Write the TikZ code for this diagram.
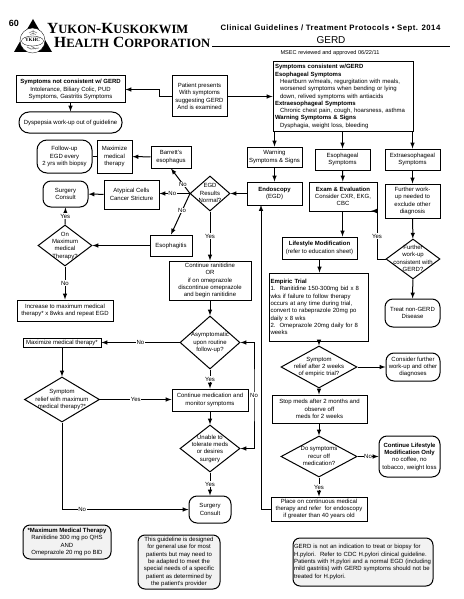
\documentclass[tikz,border=0pt]{standalone}
\usepackage{fontspec}
\setmainfont{Liberation Sans}
\newfontfamily\serifhead{Liberation Serif}
\newfontfamily\spacedhead[LetterSpace=6]{Liberation Sans}
\usetikzlibrary{shapes.geometric,calc}
\newcommand{\boxfont}{\fontsize{6}{7.3}\selectfont}
\newcommand{\smallcap}[1]{{\fontsize{12.6}{13}\selectfont #1}}
\newcommand{\dtxt}[1]{\makebox[0pt]{\smash{\raisebox{-1.6pt}{\begin{tabular}[c]{@{}c@{}}#1\end{tabular}}}}}
\tikzset{
  box/.style={draw,line width=1pt,align=center,font=\boxfont,inner sep=0pt},
  term/.style={box,rounded corners=8pt},
  note/.style={box,rounded corners=7pt,fill=gray!10},
  dmd/.style={diamond,draw,line width=1pt,font=\boxfont,inner sep=0pt,aspect=1},
  link/.style={-latex,line width=1pt},
  plain/.style={line width=1pt},
  lbl/.style={fill=white,inner sep=0.5pt,font=\boxfont},
  headline/.style={anchor=base west,inner sep=0pt,font=\serifhead\bfseries\fontsize{15.5}{16}\selectfont},
}
\begin{document}
\begin{tikzpicture}[x=1pt,y=-1pt]
        \useasboundingbox (0,0) rectangle (463,599);
        %Header
        \node[font=\bfseries\fontsize{9}{9}\selectfont] (pagenum) at (14,23) {60};
        \fill (33,19) -- (14,52) -- (52,52) -- cycle;
        \draw[fill=white,line width=0.3pt] (32.5,40.5) circle(12.5pt);
        \draw[line width=0.3pt] (32.5,41) ellipse(11pt and 5pt);
        \node[font=\serifhead\bfseries\fontsize{5}{5}\selectfont,inner sep=0pt] (ykhc) at (32.5,39.5) {YKHC};
        \draw[line width=0.5pt,gray] (33,35) -- (33,30) (29,33) -- (33,31) -- (37,33) (30,35) -- (33,33) -- (36,35);
        \draw[line width=0.7pt,gray] (27,47) -- (31,49) -- (39,48) (31,46) -- (36,49);
        \node[headline] (titleone) at (47,34) {Y\smallcap{UKON}-K\smallcap{USKOKWIM}};
        \node[headline] (titletwo) at (54,48) {H\smallcap{EALTH} C\smallcap{ORPORATION}};
        \node[inner sep=0pt,font=\spacedhead\bfseries\fontsize{7.8}{8}\selectfont] (guidelines) at (330.5,28) {Clinical Guidelines / Treatment Protocols • Sept. 2014};
        \node[inner sep=0pt,font=\fontsize{10}{10}\selectfont] (gerd) at (331,40) {GERD};
        \draw[line width=1pt] (212,47) -- (450,47);
        \node[inner sep=0pt,font=\fontsize{5.6}{6}\selectfont] (msec) at (330,53) {MSEC reviewed and approved 06/22/11};
        %Left column
        \node[box,minimum width=109pt,minimum height=27pt] (notgerd) at (70.5,89.5) {\textbf{Symptoms not consistent w/ GERD}\\Intolerance, Biliary Colic, PUD\\Symptoms, Gastritis Symptoms};
        \node[box,minimum width=55pt,minimum height=41pt] (patient) at (199.5,96.5) {Patient presents\\With symptoms\\suggesting GERD\\And is examined};
        \node[term,minimum width=103pt,minimum height=21pt,rounded corners=10pt] (dyspepsia) at (70.5,122.5) {Dyspepsia work-up out of guideline};
        \node[term,minimum width=55pt,minimum height=33pt,rounded corners=10pt] (followup) at (64.5,156.5) {Follow-up\\EGD every\\2 yrs with biopsy};
        \node[box,minimum width=35pt,minimum height=33pt] (maximize) at (114.5,156.5) {Maximize\\medical\\therapy};
        \node[box,minimum width=40pt,minimum height=22pt] (barrett) at (171,157) {Barrett's\\esophagus};
        \node[box,minimum width=55pt,minimum height=29pt] (atypical) at (131.5,194.5) {Atypical Cells\\Cancer Stricture};
        \node[term,minimum width=45pt,minimum height=26pt] (surgeryone) at (65.5,194) {Surgery\\Consult};
        \node[box,minimum width=42pt,minimum height=21pt] (esophagitis) at (171,245.5) {Esophagitis};
        \node[dmd,minimum width=40pt,minimum height=35pt] (egd) at (210,193.5) {\dtxt{EGD\\Results\\Normal?}};
        \node[dmd,minimum width=54pt,minimum height=41pt] (onmax) at (65,245.5) {\dtxt{On\\Maximum\\medical\\Therapy?}};
        \node[box,minimum width=96pt,minimum height=21pt] (increase) at (65,310.5) {Increase to maximum medical\\therapy* x 8wks and repeat EGD};
        \node[box,minimum width=82pt,minimum height=39pt] (ranitidine) at (210,280.5) {Continue ranitidine\\OR\\if on omeprazole\\discontinue omeprazole\\and begin ranitidine};
        \node[dmd,minimum width=60pt,minimum height=53pt] (asymp) at (210,342.5) {\dtxt{Asymptomatic\\upon routine\\follow-up?}};
        \node[box,minimum width=78pt,minimum height=9pt] (maxtwo) at (62,342.5) {Maximize medical therapy*};
        \node[dmd,minimum width=75pt,minimum height=45pt] (reliefmax) at (62,399.5) {\dtxt{Symptom\\relief with maximum\\medical therapy?*}};
        \node[box,minimum width=76pt,minimum height=22pt] (monitor) at (210,400) {Continue medication and\\monitor symptoms};
        \node[dmd,minimum width=60pt,minimum height=47pt] (unable) at (210,448.5) {\dtxt{Unable to\\tolerate meds\\or desires\\surgery}};
        \node[term,minimum width=42pt,minimum height=27pt] (surgerytwo) at (210,509.5) {Surgery\\Consult};
        %Right columns
        \node[box,minimum width=140pt,minimum height=69pt,text width=136pt,align=left] (consistent) at (343,96.5) {\textbf{Symptoms consistent w/GERD}\\\textbf{Esophageal Symptoms}\\\hspace*{5pt}Heartburn w/meals, regurgitation with meals,\\\hspace*{5pt}worsened symptoms when bending or lying\\\hspace*{5pt}down, relived symptoms with antiacids\\\textbf{Extraesophageal Symptoms}\\\hspace*{5pt}Chronic chest pain, cough, hoarsness, asthma\\\textbf{Warning Symptoms \& Signs}\\\hspace*{5pt}Dysphagia, weight loss, bleeding};
        \node[box,minimum width=55pt,minimum height=20pt] (warning) at (274.5,157) {Warning\\Symptoms \& Signs};
        \node[box,minimum width=55pt,minimum height=21pt] (esosymp) at (342.5,159.5) {Esophageal\\Symptoms};
        \node[box,minimum width=55pt,minimum height=21pt] (extrasymp) at (412.5,159.5) {Extraesophageal\\Symptoms};
        \node[box,minimum width=55pt,minimum height=23pt] (endoscopy) at (274.5,193.5) {\textbf{Endoscopy}\\(EGD)};
        \node[box,minimum width=68pt,minimum height=29pt] (exam) at (343,196.5) {\textbf{Exam \& Evaluation}\\Consider CXR, EKG,\\CBC};
        \node[box,minimum width=55pt,minimum height=34pt] (furtherbox) at (412.5,201) {Further work-\\up needed to\\exclude other\\diagnosis};
        \node[dmd,minimum width=54pt,minimum height=40pt] (furtherdmd) at (413,259) {\dtxt{Further\\work-up\\consistent with\\GERD?}};
        \node[term,minimum width=55pt,minimum height=28pt] (nongerd) at (412.5,313) {Treat non-GERD\\Disease};
        \node[box,minimum width=75pt,minimum height=22pt] (lifestyle) at (319.5,248) {\textbf{Lifestyle Modification}\\(refer to education sheet)};
        \node[box,minimum width=99pt,minimum height=68pt,text width=96pt,align=left] (empiric) at (318.5,307) {\textbf{Empiric Trial}\\1.\ \ Ranitidine 150-300mg bid x 8\\wks if failure to follow therapy\\occurs at any time during trial,\\convert to rabeprazole 20mg po\\daily x 8 wks\\2.\ \ Omeprazole 20mg daily for 8\\weeks};
        \node[dmd,minimum width=76pt,minimum height=42pt] (reliefempiric) at (319,367) {\dtxt{Symptom\\relief after 2 weeks\\of empiric trial?}};
        \node[term,minimum width=54pt,minimum height=28pt] (consider) at (413,367) {Consider further\\work-up and other\\diagnoses};
        \node[box,minimum width=95pt,minimum height=28pt] (stopmeds) at (319.5,409) {Stop meds after 2 months and\\observe off\\meds for 2 weeks};
        \node[dmd,minimum width=76pt,minimum height=41pt] (recur) at (319,456.5) {\dtxt{Do symptoms\\recur off\\medication?}};
        \node[term,minimum width=61pt,minimum height=41pt] (continuelife) at (409.5,456.5) {\textbf{Continue Lifestyle}\\\textbf{Modification Only}\\no coffee, no\\tobacco, weight loss};
        \node[box,minimum width=96pt,minimum height=24pt] (place) at (319,509) {Place on continuous medical\\therapy and refer\ \ for endoscopy\\if greater than 40 years old};
        %Notes
        \node[note,minimum width=88pt,minimum height=34pt] (maxnote) at (67,542) {\textbf{*Maximum Medical Therapy}\\Ranitidine 300 mg po QHS\\AND\\Omeprazole 20 mg po BID};
        \node[note,minimum width=82pt,minimum height=54pt] (guidenote) at (179,562) {This guideline is designed\\for general use for most\\patients but may need to\\be adapted to meet the\\special needs of a specific\\patient as determined by\\the patient's provider};
        \node[note,minimum width=140pt,minimum height=48pt,text width=138pt,align=left] (pylorinote) at (363,562) {GERD is not an indication to treat or biopsy for\\H.pylori.\ \ Refer to CDC H.pylori clinical guideline.\\Patients with H.pylori and a normal EGD (including\\mild gastritis) with GERD symptoms should not be\\treated for H.pylori.};
        %Draw links
        \coordinate (patientbend) at (159,96.5);
        \draw[link] (patient.west) -- (patientbend) |- (notgerd.east);
        \draw[link] (patient.east) -- (patient.east -| consistent.west);
        \draw[link] (notgerd.south) -- (dyspepsia.north);
        \draw[link] (warning.north |- consistent.south) -- (warning.north);
        \draw[link] (esosymp.north |- consistent.south) -- (esosymp.north);
        \draw[link] (extrasymp.north |- consistent.south) -- (extrasymp.north);
        \draw[link] (warning) -- (endoscopy);
        \draw[link] (esosymp) -- (exam);
        \draw[link] (extrasymp) -- (furtherbox);
        \draw[link] (furtherbox) -- (furtherdmd);
        \draw[link] (furtherdmd) -- (nongerd);
        \coordinate (yesturn) at (377,211);
        \coordinate (yestip) at (371,211);
        \draw[link] (furtherdmd.west) -| (yesturn) -- (yestip);
        \node[lbl] (yesexam) at (377,236) {Yes};
        \draw[link] (exam.south -| esosymp.north) -- (lifestyle.north -| esosymp.north);
        \draw[link] (lifestyle) -- (empiric.north -| lifestyle.south);
        \draw[link] (empiric.south -| reliefempiric.north) -- (reliefempiric.north);
        \draw[link] (reliefempiric) -- (stopmeds.north -| reliefempiric.south);
        \draw[link] (stopmeds.south -| recur.north) -- (recur.north);
        \draw[link] (reliefempiric) -- (consider);
        \draw[link] (recur) -- node[lbl] (nolife) {No} (continuelife);
        \draw[link] (recur.south) -- node[lbl] (yesplace) {Yes} (place.north -| recur.south);
        \coordinate (endoscopyin) at (261,205);
        \draw[link] (place.west) -| (endoscopyin);
        \draw[link] (endoscopy.west) -- (endoscopy.west -| egd.east);
        \coordinate (fan) at (190,193.5);
        \draw[link] (fan) -- node[lbl,pos=0.37] (nobarrett) {No} (barrett.south);
        \draw[link] (fan) -- node[lbl,pos=0.58] (noatypical) {No} (fan -| atypical.east);
        \draw[link] (fan) -- node[lbl,pos=0.42] (noesoph) {No} (esophagitis.north);
        \draw[link] (barrett) -- (maximize);
        \draw[plain] (maximize) -- (followup);
        \draw[link] (atypical) -- (surgeryone);
        \draw[link] (esophagitis) -- (onmax);
        \draw[link] (onmax.north) -- node[lbl] (yessurgery) {Yes} (surgeryone.south);
        \draw[link] (onmax.south) -- node[lbl] (noincrease) {No} (increase.north);
        \draw[link] (egd.south) -- node[lbl] (yesran) {Yes} (ranitidine.north);
        \draw[link] (ranitidine.south) -- (asymp.north);
        \draw[link] (asymp.west) -- node[lbl] (nomax) {No} (maxtwo.east);
        \draw[link] (maxtwo.south -| reliefmax.north) -- (reliefmax.north);
        \draw[link] (reliefmax.east) -- node[lbl] (yesmon) {Yes} (reliefmax.east -| monitor.west);
        \draw[link] (asymp.south) -- node[lbl] (yesasymp) {Yes} (monitor.north);
        \draw[link] (monitor.south) -- (unable.north);
        \draw[link] (unable.south) -- node[lbl] (yesunable) {Yes} (surgerytwo.north);
        \coordinate (loopx) at (254,395);
        \draw[latex-latex,line width=1pt] (asymp.east) -| (loopx) |- (unable.east);
        \node[lbl] (noloop) at (loopx) {No};
        \draw[link] (reliefmax.south) |- node[lbl,pos=0.58] (nosurgery) {No} (surgerytwo.west);
\end{tikzpicture}
\end{document}
